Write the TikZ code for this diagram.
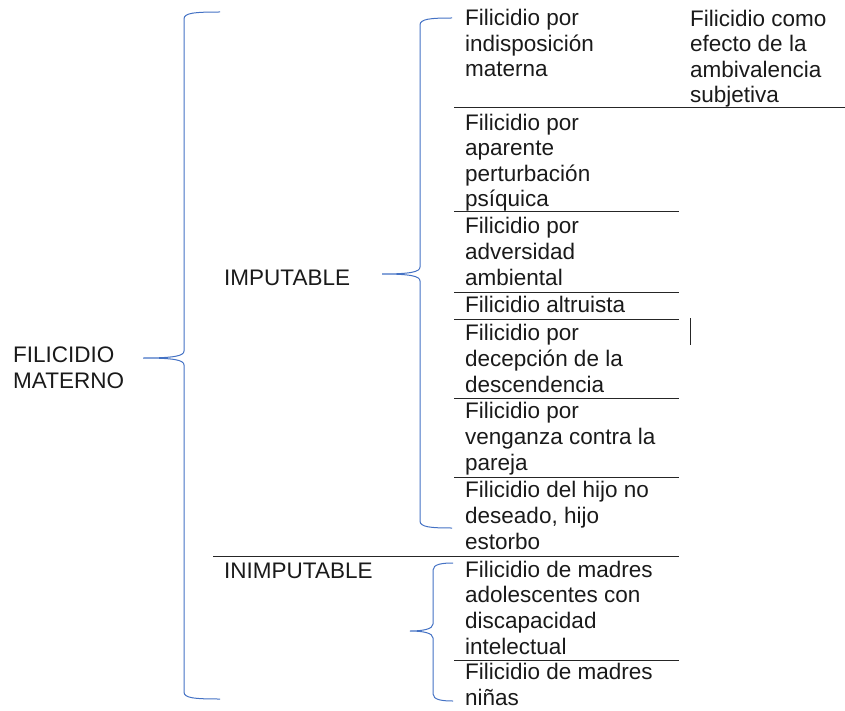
\documentclass[tikz,border=0pt]{standalone}
\usepackage{fontspec}
\setmainfont{Liberation Sans}
\usetikzlibrary{positioning}
\definecolor{cBrace}{HTML}{4472C4}
\definecolor{cInk}{HTML}{1A1A1A}
\definecolor{cRule}{HTML}{262626}
\tikzset{
  % base anchor of a multi-line node = baseline of its last line
  txt/.style={anchor=base west,align=left,inner sep=0pt,text=cInk,font=\fontsize{22.5}{25.6}\selectfont},
  brace/.style={draw=cBrace,line width=1pt},
  rule/.style={draw=cRule,line width=1pt},
}
% Word-like curly brace: #1 end x, #2 spine x, #3 tip x, #4 top y, #5 tip y, #6 bottom y
\newcommand{\wbrace}[6]{%
  \draw[brace] (#1,#4) .. controls ({#2+10},#4) and (#2,{#4+1}) .. (#2,{#4+7})
    -- (#2,{#5-7}) .. controls (#2,{#5-2}) and ({#2-10},#5) .. (#3,#5)
    .. controls ({#2-10},#5) and (#2,{#5+2}) .. (#2,{#5+7})
    -- (#2,{#6-7}) .. controls (#2,{#6-1}) and ({#2+10},#6) .. (#1,#6);}

\begin{document}
\begin{tikzpicture}[x=1pt,y=-1pt]
  \useasboundingbox (0,0) rectangle (845,711);
  % headings
  \node[txt] (root)    at (13,388)  {FILICIDIO\\MATERNO};
  \node[txt] (imput)   at (224,285) {IMPUTABLE};
  \node[txt] (inimput) at (224,578) {INIMPUTABLE};
  \node[txt] (amb)     at (690,103) {Filicidio como\\efecto de la\\ambivalencia\\subjetiva};
  % imputable
  \node[txt] (imp1) at (465,77)  {Filicidio por\\indisposición\\materna};
  \node[txt] (imp2) at (465,207) {Filicidio por\\aparente\\perturbación\\psíquica};
  \node[txt] (imp3) at (465,285) {Filicidio por\\adversidad\\ambiental};
  \node[txt] (imp4) at (465,312) {Filicidio altruista};
  \node[txt] (imp5) at (465,392) {Filicidio por\\decepción de la\\descendencia};
  \node[txt] (imp6) at (465,470) {Filicidio por\\venganza contra la\\pareja};
  \node[txt] (imp7) at (465,549) {Filicidio del hijo no\\deseado, hijo\\estorbo};
  % inimputable
  \node[txt] (inim1) at (465,654) {Filicidio de madres\\adolescentes con\\discapacidad\\intelectual};
  \node[txt] (inim2) at (465,705) {Filicidio de madres\\niñas};
  % braces
  \wbrace{220}{184}{143}{12}{358}{699}
  \wbrace{452}{420}{382}{18}{274}{528}
  \wbrace{453}{433}{410}{563}{631}{701}
  % rules
  \draw[rule] (454,108) -- (845,108);
  \foreach \yy in {212,292,319,398,477,660}
    \draw[rule] (454,\yy) -- (679,\yy);
  \draw[rule] (213,556) -- (679,556);
  \draw[rule] (690,318) -- (690,345);
\end{tikzpicture}
\end{document}
